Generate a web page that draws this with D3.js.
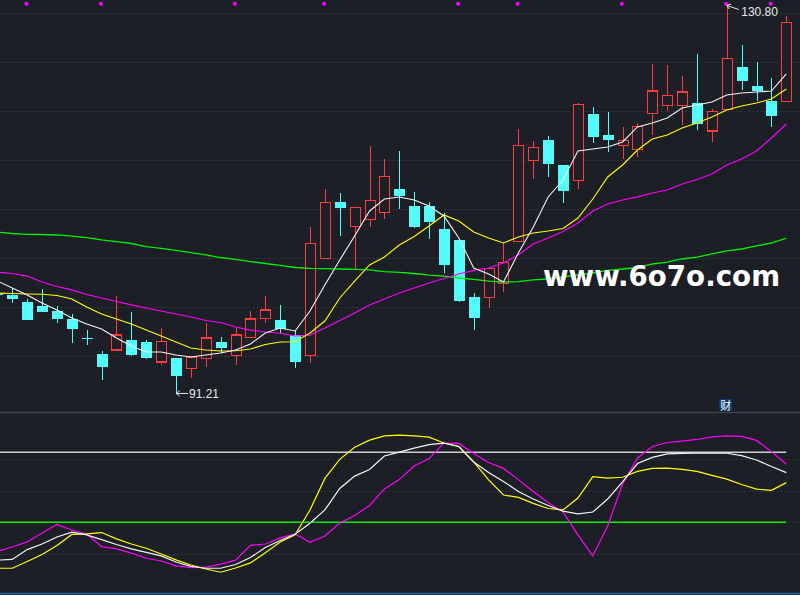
<!DOCTYPE html>
<html>
<head>
<meta charset="utf-8">
<script src="https://cdn.jsdelivr.net/npm/d3@7"></script>
<style>
  html, body { margin: 0; padding: 0; background: #1c1f26; overflow: hidden; }
  svg { display: block; }
</style>
</head>
<body>
<svg></svg>
<script>
// Candles (first one is cut by the left edge)
const opens  = [101.49, 101.22, 100.54, 100.13, 99.62, 98.81, 96.87, 95.24, 95.64, 96.66,
                96.46, 94.42, 94.83, 93.74, 94.80, 96.46, 95.06, 96.94, 98.84, 98.70,
                97.17, 95.10, 105.00, 110.74, 108.27, 108.98, 109.69, 112.07, 110.34, 110.34,
                107.99, 106.87, 101.05, 101.00, 102.45, 106.73, 114.96, 117.07, 114.52, 112.96,
                119.72, 117.58, 116.49, 116.12, 119.80, 120.61, 120.61, 120.85, 117.99, 120.20,
                124.52, 122.58, 121.05, 121.02];
const highs  = [101.66, 101.94, 100.85, 101.87, 100.13, 99.32, 97.68, 95.57, 101.15, 99.52,
                96.66, 97.92, 94.83, 95.03, 98.40, 96.97, 97.89, 99.62, 101.15, 100.24,
                97.61, 108.22, 112.07, 111.66, 110.20, 116.46, 115.13, 115.92, 111.77, 110.74,
                109.59, 106.87, 101.46, 104.14, 106.56, 118.19, 116.97, 117.48, 114.52, 120.85,
                120.44, 119.93, 118.37, 118.78, 124.83, 124.72, 123.57, 125.85, 120.20, 130.80,
                126.77, 125.03, 123.40, 129.72];
const lows   = [101.05, 100.47, 98.70, 99.52, 98.43, 96.39, 96.18, 92.58, 95.64, 95.03,
                94.69, 94.11, 91.21, 92.82, 93.94, 95.31, 94.11, 96.94, 98.37, 97.28,
                93.84, 94.35, 105.00, 107.31, 103.91, 108.22, 109.04, 110.06, 108.12, 107.00,
                103.53, 100.57, 97.68, 99.88, 101.59, 106.73, 113.09, 113.33, 110.67, 112.10,
                116.80, 115.85, 115.16, 115.37, 117.61, 120.06, 118.60, 118.12, 116.90, 120.20,
                122.17, 121.08, 118.43, 121.02];
const closes = [101.26, 100.82, 98.74, 99.55, 98.84, 97.82, 96.84, 93.94, 97.17, 95.13,
                94.83, 96.53, 93.02, 94.93, 96.87, 95.88, 97.17, 98.81, 99.72, 97.82,
                94.45, 106.53, 110.71, 110.16, 110.20, 110.92, 113.37, 111.39, 108.22, 108.73,
                104.35, 100.67, 98.94, 103.98, 104.59, 116.53, 116.33, 114.62, 111.90, 120.71,
                117.41, 117.10, 117.04, 118.47, 122.07, 121.63, 121.97, 118.74, 120.00, 125.41,
                123.12, 122.10, 119.52, 129.08];

// Moving averages
const ma5  = [102.68, 101.97, 101.26, 100.44, 99.72, 98.91, 98.30, 97.79, 96.87, 96.05,
              95.44, 95.44, 95.13, 94.93, 95.13, 95.34, 95.64, 96.26, 97.38, 97.89,
              97.58, 99.62, 102.28, 104.83, 107.28, 109.83, 111.05, 111.26, 110.95, 110.34,
              109.32, 107.07, 104.01, 103.40, 102.58, 105.54, 108.19, 111.26, 112.99, 115.95,
              116.15, 116.36, 116.87, 118.40, 118.81, 119.32, 120.34, 120.64, 120.95, 121.66,
              121.87, 121.97, 122.07, 123.81];
const ma10 = [101.46, 101.41, 101.36, 101.33, 101.20, 100.85, 100.03, 99.32, 98.81, 98.30,
              97.68, 97.07, 96.46, 95.85, 95.64, 95.54, 95.57, 95.75, 96.20, 96.46,
              96.49, 97.38, 98.60, 100.95, 102.68, 104.32, 105.13, 106.36, 107.22, 108.30,
              109.42, 108.81, 107.68, 107.07, 106.56, 107.17, 107.58, 107.79, 108.04, 109.11,
              111.05, 113.30, 114.52, 116.05, 117.17, 117.58, 118.30, 118.81, 119.42, 120.13,
              120.54, 120.85, 121.26, 122.28];
const ma20 = [103.60, 103.45, 103.19, 102.58, 102.12, 101.77, 101.31, 100.95, 100.59, 100.24,
              99.93, 99.62, 99.32, 99.01, 98.65, 98.45, 97.99, 97.68, 97.48, 97.35,
              97.07, 97.17, 97.89, 98.65, 99.42, 100.24, 100.85, 101.46, 101.97, 102.48,
              102.94, 103.40, 103.76, 104.01, 104.52, 105.34, 106.46, 107.07, 107.74, 108.60,
              109.83, 110.54, 110.95, 111.26, 111.66, 111.97, 112.58, 113.04, 113.60, 114.52,
              115.13, 115.95, 117.28, 118.70];
const ma60 = [107.68, 107.53, 107.45, 107.43, 107.38, 107.26, 107.12, 106.87, 106.71, 106.51,
              106.20, 106.02, 105.80, 105.59, 105.34, 105.08, 104.88, 104.67, 104.47, 104.27,
              104.06, 103.98, 103.95, 103.91, 103.86, 103.81, 103.65, 103.57, 103.45, 103.28,
              103.19, 102.99, 102.84, 102.68, 102.58, 102.63, 102.79, 102.89, 103.09, 103.30,
              103.50, 103.76, 103.91, 104.06, 104.42, 104.62, 104.93, 105.13, 105.44, 105.75,
              105.95, 106.26, 106.56, 107.07];

// Lower indicator panel (white / yellow / magenta)
const indWhite   = [33.8, 34.1, 38.3, 40.7, 43.7, 45.8, 44.6, 42.6, 40.5, 38.6,
                    37.1, 35.6, 33.0, 31.1, 30.3, 30.3, 31.9, 34.9, 39.2, 42.2,
                    44.9, 49.6, 55.3, 64.5, 69.8, 72.6, 78.4, 80.1, 81.8, 83.3,
                    83.9, 82.5, 75.8, 71.3, 67.5, 63.2, 60.0, 57.2, 54.8, 53.6,
                    54.4, 60.0, 67.3, 75.2, 77.8, 79.3, 79.5, 79.6, 79.6, 79.6,
                    78.6, 76.7, 73.9, 71.3];
const indYellow  = [30.3, 30.3, 33.2, 36.2, 40.1, 44.8, 45.0, 45.6, 42.9, 40.7,
                    38.9, 36.4, 33.9, 31.7, 30.0, 28.6, 30.4, 32.6, 37.0, 41.6,
                    44.6, 55.3, 68.8, 77.0, 82.2, 85.2, 87.0, 87.4, 87.0, 86.5,
                    84.0, 82.5, 75.9, 68.2, 61.7, 60.7, 58.1, 55.9, 55.3, 60.4,
                    69.6, 68.9, 69.3, 71.8, 73.1, 73.2, 72.7, 71.8, 70.1, 68.5,
                    66.2, 64.2, 63.7, 67.0];
const indMagenta = [37.5, 39.4, 41.6, 45.4, 49.1, 46.7, 45.0, 39.6, 38.6, 36.8,
                    34.6, 33.4, 31.3, 30.6, 30.8, 32.1, 33.8, 40.1, 40.7, 43.3,
                    45.0, 41.4, 44.1, 49.7, 52.9, 57.2, 64.3, 68.3, 74.1, 77.3,
                    83.9, 83.8, 79.5, 75.6, 73.1, 68.3, 63.2, 58.5, 54.4, 44.6,
                    35.6, 48.4, 66.4, 77.6, 82.5, 84.2, 84.8, 85.5, 86.6, 87.0,
                    86.8, 85.1, 80.3, 75.0];

// Grid / level values
const priceGrid = [130, 125, 120, 115, 110, 105, 100, 95];
const indGrid = [77.1, 63.4, 50, 36.3];
const indLevels = [80, 50];
const markerIdx = [2, 7, 16, 22, 31, 35, 42, 49, 52];   // small info markers on top
const reportIdx = 49;                                     // "财" flag
const watermark = "www.6o7o.com";

// Fixed inputs
const svgWidth = 800;
const svgHeight = 595;
const bg = "#1c1f26";
const upColor = "#ff3c3c";
const downColor = "#54fcfc";

const svg = d3.select("svg")
    .attr("width", svgWidth)
    .attr("height", svgHeight);

svg.append("rect").attr("width", svgWidth).attr("height", svgHeight).attr("fill", bg);

// Scales
const n = opens.length;
const x = d3.scaleLinear().domain([0, n - 1]).range([-2.6, 786.3]);
const y = d3.scaleLinear().domain([90, 130]).range([405.3, 13.3]);
const yInd = d3.scaleLinear().domain([50, 80]).range([522.3, 452.3]);
const bodyW = 10.6;

// Clip areas for the two panels
const defs = svg.append("defs");
defs.append("clipPath").attr("id", "clipMain")
    .append("rect").attr("x", 0).attr("y", 0).attr("width", svgWidth).attr("height", 412);
defs.append("clipPath").attr("id", "clipInd")
    .append("rect").attr("x", 0).attr("y", 414).attr("width", svgWidth).attr("height", 179);

// Dotted grid lines
function dottedLine(yy) {
    svg.append("line")
        .attr("x1", 1).attr("x2", svgWidth)
        .attr("y1", Math.round(yy) + 0.5).attr("y2", Math.round(yy) + 0.5)
        .attr("stroke", "#454952")
        .attr("stroke-width", 1)
        .attr("stroke-dasharray", "1,3")
        .attr("shape-rendering", "crispEdges");
}
priceGrid.forEach(p => dottedLine(y(p)));
indGrid.forEach(v => dottedLine(yInd(v)));

// Panel separators
svg.append("line").attr("x1", 0).attr("x2", svgWidth).attr("y1", 412.5).attr("y2", 412.5)
    .attr("stroke", "#3c4048").attr("stroke-width", 1.5);
svg.append("line").attr("x1", 0).attr("x2", svgWidth).attr("y1", 593.5).attr("y2", 593.5)
    .attr("stroke", "#1d6aa3").attr("stroke-width", 1.5);

// Main panel
const main = svg.append("g").attr("clip-path", "url(#clipMain)");

const candles = main.append("g").attr("shape-rendering", "crispEdges");
d3.range(n).forEach(i => {
    const cx = Math.round(x(i)) + 0.5;
    const up = closes[i] >= opens[i];
    const top = y(Math.max(opens[i], closes[i]));
    const bot = y(Math.min(opens[i], closes[i]));
    const color = up ? upColor : downColor;

    if (up) {
        // hollow red body, wick does not cross it
        candles.append("line").attr("x1", cx).attr("x2", cx)
            .attr("y1", y(highs[i])).attr("y2", top)
            .attr("stroke", color).attr("stroke-width", 1.2);
        candles.append("line").attr("x1", cx).attr("x2", cx)
            .attr("y1", bot).attr("y2", y(lows[i]))
            .attr("stroke", color).attr("stroke-width", 1.2);
        candles.append("rect")
            .attr("x", cx - bodyW / 2 + 0.6).attr("y", top)
            .attr("width", bodyW - 1.2).attr("height", Math.max(1, bot - top))
            .attr("fill", bg).attr("stroke", color).attr("stroke-width", 1.3);
    } else {
        candles.append("line").attr("x1", cx).attr("x2", cx)
            .attr("y1", y(highs[i])).attr("y2", y(lows[i]))
            .attr("stroke", color).attr("stroke-width", 1.2);
        candles.append("rect")
            .attr("x", cx - bodyW / 2).attr("y", top)
            .attr("width", bodyW).attr("height", Math.max(1.5, bot - top))
            .attr("fill", color);
    }
});

// MA lines
const priceLine = d3.line().x((d, i) => x(i)).y(d => y(d));
function drawLine(g, gen, data, color, width) {
    g.append("path")
        .datum(data)
        .attr("d", gen)
        .attr("fill", "none")
        .attr("stroke", color)
        .attr("stroke-width", width);
}
drawLine(main, priceLine, ma60, "#00f000", 1.3);
drawLine(main, priceLine, ma20, "#ff00ff", 1.2);
drawLine(main, priceLine, ma10, "#ffff00", 1.1);
drawLine(main, priceLine, ma5, "#f4f4f4", 1.1);

// Top markers
main.selectAll(".marker")
    .data(markerIdx)
    .join("rect")
    .attr("x", i => x(i) - 2.5)
    .attr("y", 2)
    .attr("width", 3.5)
    .attr("height", 3.5)
    .attr("fill", "#ff00ff");

// Highest / lowest price labels
function labelPoint(i, value, dx, dy, textDx, textDy) {
    const tx = x(i), ty = y(value);
    const ex = tx + dx, ey = ty + dy;
    const len = Math.hypot(dx, dy);
    const ux = dx / len, uy = dy / len;
    const a = 4.5, s = Math.PI / 5;
    const rot = (vx, vy, ang) => [vx * Math.cos(ang) - vy * Math.sin(ang), vx * Math.sin(ang) + vy * Math.cos(ang)];
    const b1 = rot(ux, uy, s), b2 = rot(ux, uy, -s);
    const g = main.append("g").attr("stroke", "#e8e8e8").attr("stroke-width", 1).attr("fill", "none");
    g.append("line").attr("x1", tx).attr("y1", ty).attr("x2", ex).attr("y2", ey);
    g.append("line").attr("x1", tx).attr("y1", ty).attr("x2", tx + b1[0] * a).attr("y2", ty + b1[1] * a);
    g.append("line").attr("x1", tx).attr("y1", ty).attr("x2", tx + b2[0] * a).attr("y2", ty + b2[1] * a);
    main.append("text")
        .attr("x", tx + textDx)
        .attr("y", ty + textDy)
        .attr("fill", "#e4e8ee")
        .attr("font-size", "12px")
        .attr("font-family", "'Liberation Sans', Arial, sans-serif")
        .text(value.toFixed(2));
}
const iMax = d3.maxIndex(highs);
const iMin = d3.minIndex(lows);
labelPoint(iMax, highs[iMax], 12, 4, 14.5, 10.5);
labelPoint(iMin, lows[iMin], 12, 0, 13, 4.3);

// Watermark
main.append("text")
    .attr("x", 543)
    .attr("y", 286)
    .attr("fill", "#ffffff")
    .attr("font-size", "29px")
    .attr("font-weight", "bold")
    .attr("font-family", "'DejaVu Sans', sans-serif")
    .attr("textLength", 237)
    .attr("lengthAdjust", "spacingAndGlyphs")
    .text(watermark);

// Report flag
const fx = x(reportIdx);
svg.append("rect").attr("x", fx - 7.5).attr("y", 399).attr("width", 13).attr("height", 11.5)
    .attr("fill", "#0c3b72");
svg.append("text").attr("x", fx - 1).attr("y", 409.5)
    .attr("text-anchor", "middle")
    .attr("fill", "#ffffff")
    .attr("font-size", "11px")
    .attr("font-family", "'Noto Sans CJK SC', sans-serif")
    .text("财");

// Lower indicator panel
const ind = svg.append("g").attr("clip-path", "url(#clipInd)");
const xEnd = x(n - 1);
ind.append("line").attr("x1", 0).attr("x2", xEnd)
    .attr("y1", yInd(indLevels[0])).attr("y2", yInd(indLevels[0]))
    .attr("stroke", "#cfcfcf").attr("stroke-width", 1.5);
ind.append("line").attr("x1", 0).attr("x2", xEnd)
    .attr("y1", yInd(indLevels[1])).attr("y2", yInd(indLevels[1]))
    .attr("stroke", "#00f000").attr("stroke-width", 1.5);

const indLine = d3.line().x((d, i) => x(i)).y(d => yInd(d));
drawLine(ind, indLine, indMagenta, "#ff00ff", 1.2);
drawLine(ind, indLine, indYellow, "#ffff00", 1.2);
drawLine(ind, indLine, indWhite, "#f4f4f4", 1.2);
</script>
</body>
</html>
